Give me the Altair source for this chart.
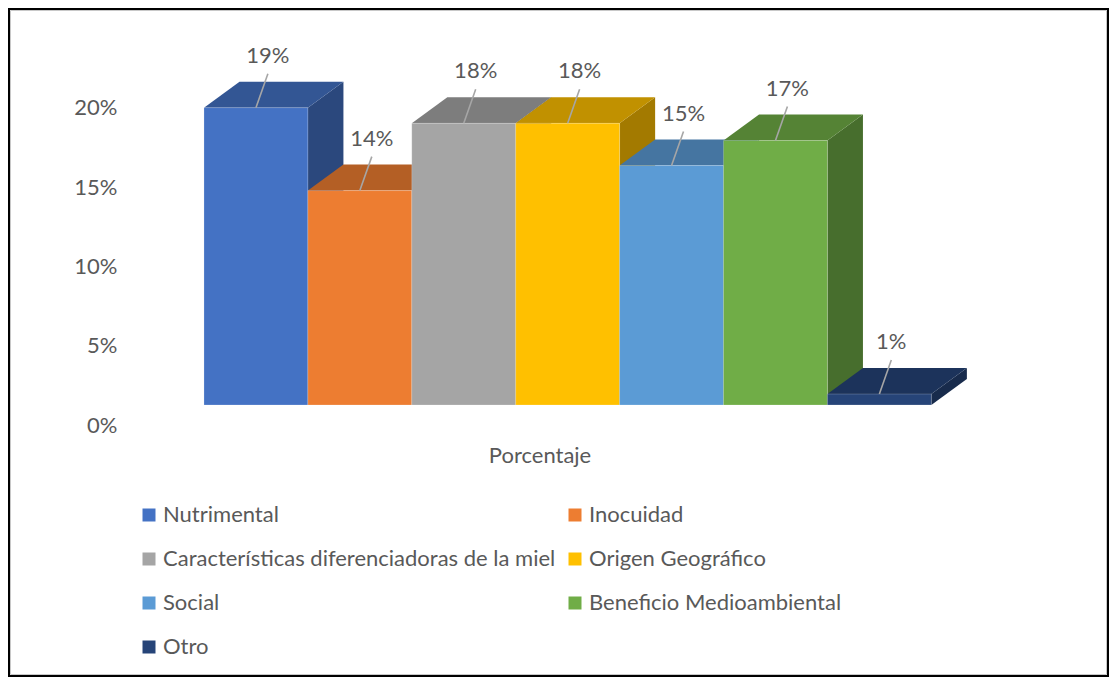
import altair as alt
import pandas as pd

# ---------------- data ----------------
categories = [
    "Nutrimental",
    "Inocuidad",
    "Características diferenciadoras de la miel",
    "Origen Geográfico",
    "Social",
    "Beneficio Medioambiental",
    "Otro",
]
# bar heights (labels are the rounded values)
values = [0.19, 0.137, 0.18, 0.18, 0.153, 0.169, 0.007]
value_labels = ["19%", "14%", "18%", "18%", "15%", "17%", "1%"]
colors = ["#4472C4", "#ED7D31", "#A5A5A5", "#FFC000", "#5B9BD5", "#70AD47", "#264478"]
y_ticks = [0.0, 0.05, 0.10, 0.15, 0.20]
x_title = "Porcentaje"

# ---------------- styling ----------------
FONT = "Lato"
FS = 22
TXT = "#595959"
TOP_SHADE = 0.76
SIDE_SHADE = 0.64
DEPTH_X = 0.342     # 3D depth in bar-width units
DEPTH_Y = 0.0166    # 3D depth in value units
LEAD_X = 0.115      # leader line horizontal reach (bar-width units)
LEAD_Y = 0.0217     # leader line vertical reach (value units)


def shade(hex_color, f):
    h = hex_color.lstrip("#")
    r, g, b = (int(h[i:i + 2], 16) for i in (0, 2, 4))
    return "#{:02X}{:02X}{:02X}".format(int(r * f), int(g * f), int(b * f))


XS = alt.Scale(domain=[-0.712, 7.661], nice=False, zero=False)
YS = alt.Scale(domain=[-0.01278, 0.246], nice=False, zero=False)

side_layers, top_layers = [], []
label_rows, front_rows = [], []
for i, (c, v, lab, col) in enumerate(zip(categories, values, value_labels, colors)):
    x0, x1 = i, i + 1
    front_rows.append({"cat": c, "x0": x0, "x1": x1, "v": v, "base": 0.0})
    top_df = pd.DataFrame({
        "x": [x0, x0 + DEPTH_X, x1, x1 + DEPTH_X],
        "yt": [v, v + DEPTH_Y, v + DEPTH_Y, v + DEPTH_Y],
        "yb": [v, v, v, v + DEPTH_Y],
    })
    side_df = pd.DataFrame({
        "x": [x1, x1 + DEPTH_X],
        "yt": [v, v + DEPTH_Y],
        "yb": [0.0, DEPTH_Y],
    })
    top_layers.append(
        alt.Chart(top_df).mark_area(color=shade(col, TOP_SHADE), interpolate="linear").encode(
            x=alt.X("x:Q", scale=XS, axis=None),
            y=alt.Y("yt:Q", scale=YS, axis=None, stack=None),
            y2="yb:Q",
        )
    )
    side_layers.append(
        alt.Chart(side_df).mark_area(color=shade(col, SIDE_SHADE), interpolate="linear").encode(
            x=alt.X("x:Q", scale=XS, axis=None),
            y=alt.Y("yt:Q", scale=YS, axis=None, stack=None),
            y2="yb:Q",
        )
    )
    xc = i + 0.5
    label_rows.append({"cat": c, "xc": xc, "v": v, "lx": xc + LEAD_X, "ly": v + LEAD_Y, "lbl": lab})

front_df = pd.DataFrame(front_rows)
label_df = pd.DataFrame(label_rows)
tick_df = pd.DataFrame({"t": y_ticks})

fronts = alt.Chart(front_df).mark_bar(stroke="#FFFFFF", strokeOpacity=0.2, strokeWidth=1).encode(
    x=alt.X("x0:Q", scale=XS, axis=None),
    x2="x1:Q",
    y=alt.Y("v:Q", scale=YS, axis=None),
    y2="base:Q",
    color=alt.Color(
        "cat:N",
        scale=alt.Scale(domain=categories, range=colors),
        legend=alt.Legend(
            title=None, orient="none", legendX=8, legendY=484, columns=2,
            direction="horizontal",
            symbolType="square", symbolSize=169, symbolStrokeWidth=0,
            labelFont=FONT, labelFontSize=FS, labelColor=TXT, labelLimit=700,
            labelOffset=3, columnPadding=8, rowPadding=22, padding=0,
        ),
    ),
)

leaders = alt.Chart(label_df).mark_rule(color="#A6A6A6", strokeWidth=1.6).encode(
    x=alt.X("xc:Q", scale=XS, axis=None),
    x2="lx:Q",
    y=alt.Y("v:Q", scale=YS, axis=None),
    y2="ly:Q",
)

labels = alt.Chart(label_df).mark_text(
    font=FONT, fontSize=FS, color=TXT, dy=-18, baseline="middle", align="center"
).encode(
    x=alt.X("lx:Q", scale=XS, axis=None),
    y=alt.Y("ly:Q", scale=YS, axis=None),
    text="lbl:N",
)

inner = alt.layer(*side_layers, *top_layers, fronts, leaders, labels)

axis_layer = alt.Chart(tick_df).mark_point(opacity=0).encode(
    y=alt.Y(
        "t:Q",
        scale=alt.Scale(domain=[0, 0.2555], nice=False, zero=False),
        axis=alt.Axis(
            values=y_ticks, format=".0%", orient="left", grid=False, domain=False,
            ticks=False, labelPadding=13, labelFont=FONT, labelFontSize=FS,
            labelColor=TXT, title=None,
        ),
    )
)

title_df = pd.DataFrame({"title": [x_title]})
x_title_layer = alt.Chart(title_df).mark_text(
    font=FONT, fontSize=FS, color=TXT, align="center", baseline="middle"
).encode(
    text="title:N", x=alt.value(410), y=alt.value(436)
)

frame_df = pd.DataFrame({"f": [0]})
frame_outer = alt.Chart(frame_df).mark_rect(
    fillOpacity=0, stroke="#000000", strokeWidth=2
).encode(
    x=alt.value(-121), x2=alt.value(978), y=alt.value(-11), y2=alt.value(656)
)
frame_inner = alt.Chart(frame_df).mark_rect(
    fillOpacity=0, stroke="#C8C8C8", strokeWidth=1
).encode(
    x=alt.value(-119.5), x2=alt.value(976.5), y=alt.value(-9.5), y2=alt.value(654.5)
)

chart = alt.layer(frame_outer, frame_inner, axis_layer, x_title_layer, inner).resolve_scale(
    y="independent"
).properties(
    width=870,
    height=405,
    background="#FFFFFF",
    autosize=alt.AutoSizeParams(type="none"),
    padding={"left": 122, "top": 12, "right": 109, "bottom": 252},
).configure_view(strokeWidth=0, stroke="transparent")

chart.save("out.html", embed_options={"renderer": "svg", "actions": False})
